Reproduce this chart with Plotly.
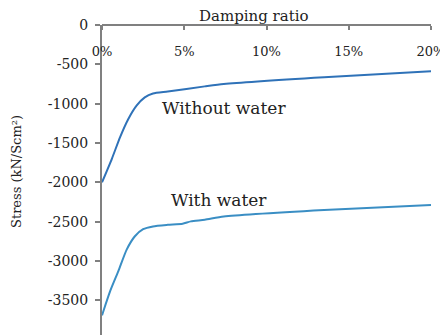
import plotly.graph_objects as go

# Damping ratio (%)
x_without = [0, 0.6, 1.1, 1.6, 2.1, 2.6, 3.1, 4.0, 6.25, 7.4, 13.5, 20]
y_without = [-2000, -1700, -1425, -1195, -1025, -920, -870, -845, -780, -750, -664, -589]

x_with = [0, 0.5, 1.0, 1.5, 2.0, 2.5, 3.1, 4.0, 4.9, 5.4, 6.25, 7.4, 13.5, 20]
y_with = [-3690, -3380, -3125, -2855, -2685, -2595, -2560, -2540, -2526, -2496, -2476, -2433, -2350, -2287]

x_ticks = [0, 5, 10, 15, 20]
x_ticktext = ["0%", "5%", "10%", "15%", "20%"]
y_ticks = [0, -500, -1000, -1500, -2000, -2500, -3000, -3500]
y_ticktext = ["0", "-500", "-1000", "-1500", "-2000", "-2500", "-3000", "-3500"]

FONT = "DejaVu Serif"
TXT = "#222222"

# page body has an 8px default margin: figure is 440x327 placed at (8, 8)
fig = go.Figure()
fig.add_trace(go.Scatter(x=x_without, y=y_without, mode="lines",
                         line=dict(color="#2f72b8", width=2, shape="spline", smoothing=0.6),
                         name="Without water", showlegend=False))
fig.add_trace(go.Scatter(x=x_with, y=y_with, mode="lines",
                         line=dict(color="#3a8ec4", width=2, shape="spline", smoothing=0.6),
                         name="With water", showlegend=False))

fig.update_layout(
    width=440, height=327,
    margin=dict(l=94, r=17, t=17, b=0),
    paper_bgcolor="white", plot_bgcolor="white",
    font=dict(family=FONT, color=TXT, size=13),
    xaxis=dict(side="bottom", anchor="free", position=1, domain=[0, 1],
               range=[0, 20], tickvals=x_ticks, ticktext=x_ticktext,
               ticks="outside", ticklen=4, tickcolor="#808080", tickwidth=1.5,
               ticklabelstandoff=10, automargin=False,
               showline=True, linecolor="#808080", linewidth=2,
               showgrid=False, zeroline=False,
               tickfont=dict(family=FONT, size=13, color=TXT)),
    yaxis=dict(range=[-3940, 0], domain=[0, 1], tickvals=y_ticks, ticktext=y_ticktext,
               ticks="outside", ticklen=5, tickcolor="#808080", tickwidth=1.5,
               ticklabelstandoff=4, automargin=False,
               showline=True, linecolor="#808080", linewidth=2,
               showgrid=False, zeroline=False,
               tickfont=dict(family=FONT, size=14, color=TXT)),
    annotations=[
        dict(text="Damping ratio", xref="paper", yref="paper", x=(254 - 102) / 329, y=1,
             xanchor="center", yanchor="middle",
             yshift=9, showarrow=False, font=dict(size=15, family=FONT, color=TXT)),
        dict(text="Stress (kN/Scm²)", xref="paper", yref="paper", x=0, xshift=-85,
             xanchor="center", yanchor="middle",
             y=1 - (172 - 25) / 310, textangle=-90, showarrow=False,
             font=dict(size=13, family=FONT, color=TXT)),
        dict(text="Without water", x=7.4, y=-1060, xref="x", yref="y", showarrow=False,
             font=dict(size=17, family=FONT, color=TXT)),
        dict(text="With water", x=7.1, y=-2220, xref="x", yref="y", showarrow=False,
             font=dict(size=17, family=FONT, color=TXT)),
    ],
)

fig.write_html("out.html")
